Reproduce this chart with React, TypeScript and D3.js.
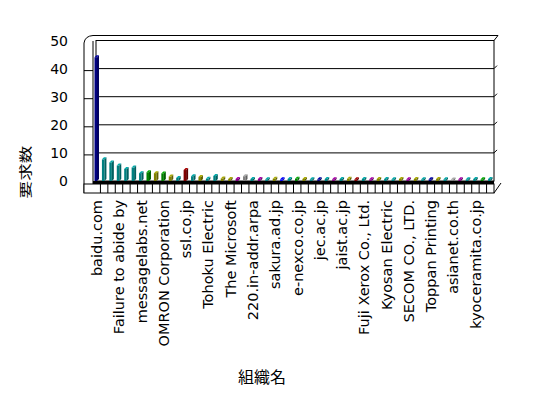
import * as d3 from 'd3';

// labels shown on the axis (every third organisation)
const shownLabels = [
  'baidu.com',
  'Failure to abide by',
  'messagelabs.net',
  'OMRON Corporation',
  'ssl.co.jp',
  'Tohoku Electric',
  'The Microsoft',
  '220.in-addr.arpa',
  'sakura.ad.jp',
  'e-nexco.co.jp',
  'jec.ac.jp',
  'jaist.ac.jp',
  'Fuji Xerox Co., Ltd.',
  'Kyosan Electric',
  'SECOM CO., LTD.',
  'Toppan Printing',
  'asianet.co.th',
  'kyoceramita.co.jp',
];

const requests = [
  44, 7.7, 6.6, 5.5, 4.3, 4.8, 2.8, 3.1, 2.8, 2.7,
  1.6, 1.1, 3.9, 1.7, 1.4, 0.8, 1.8, 0.9, 0.7, 0.7,
  1.7, 0.7, 0.7, 0.6, 0.8, 0.6, 0.7, 0.8, 0.7, 0.6,
  0.6, 0.7, 0.6, 0.7, 0.8, 0.6, 0.7, 0.6, 0.7, 0.7,
  0.6, 0.7, 0.6, 0.7, 0.6, 0.6, 0.7, 0.6, 0.5, 0.6,
  0.6, 0.7, 0.6, 0.7,
];

const barColours = [
  '#000080', '#008080', '#008080', '#008080', '#008080', '#008080', '#008080', '#008000', '#808000', '#008000',
  '#808000', '#008080', '#800000', '#008080', '#808000', '#008080', '#008080', '#808000', '#808000', '#800080',
  '#808080', '#008080', '#800080', '#008080', '#808000', '#0000ff', '#008080', '#008000', '#808000', '#008080',
  '#000080', '#008080', '#800080', '#008080', '#808000', '#800000', '#008080', '#800080', '#808000', '#008080',
  '#008080', '#808000', '#800080', '#808000', '#008080', '#000080', '#808000', '#008080', '#808080', '#800080',
  '#008080', '#008080', '#008000', '#008080',
];

const yTicks = [0, 10, 20, 30, 40, 50];

const W = 548;
const H = 398;
const FLOOR_LEFT = 93;
const FLOOR_RIGHT = 494;
const BASE_Y = 181;
const TOP_Y = 40.5;
const FONT = '"DejaVu Sans", sans-serif';
const JP_FONT = '"Noto Sans CJK JP", sans-serif';

export default function App() {
  const idx = d3.range(requests.length);
  const x = d3.scaleBand<number>().domain(idx).range([FLOOR_LEFT, FLOOR_RIGHT]);
  const y = d3.scaleLinear().domain([0, 50]).range([BASE_Y, TOP_Y]);
  const depth = 2;

  return (
    <svg width={W} height={H} style={{ position: 'absolute', left: 0, top: 0, background: '#fff' }}>
      {/* back wall */}
      <rect x={96} y={TOP_Y} width={FLOOR_RIGHT - 96} height={BASE_Y - TOP_Y} fill="#fff" stroke="#000" strokeWidth={1} />
      {yTicks.slice(1, -1).map((t) => (
        <g key={t}>
          <line x1={96} x2={FLOOR_RIGHT} y1={y(t)} y2={y(t)} stroke="#000" strokeWidth={1} />
          <line x1={84} x2={93} y1={y(t) + 2} y2={y(t) + 2} stroke="#000" />
          <line x1={FLOOR_RIGHT} x2={FLOOR_RIGHT + 3} y1={y(t)} y2={y(t) - 3} stroke="#000" />
        </g>
      ))}
      {/* wall thickness */}
      <line x1={93} x2={498} y1={35.5} y2={35.5} stroke="#000" />
      <line x1={FLOOR_RIGHT} x2={498} y1={TOP_Y} y2={35.5} stroke="#000" />
      <path d="M84,43 Q85,36 93,35.5" fill="none" stroke="#000" />
      <line x1={84} x2={84} y1={43} y2={193} stroke="#000" />
      <line x1={93} x2={93} y1={41} y2={184} stroke="#000" />

      {/* bars */}
      {requests.map((v, i) => {
        const x0 = (x(i) ?? 0) + 1.5;
        const w = 2.5;
        const y0 = y(v);
        const c = barColours[i];
        const dark = d3.color(c)!.darker(0.8).formatHex();
        const light = d3.color(c)!.brighter(0.8).formatHex();
        return (
          <g key={i}>
            <rect x={x0} y={y0} width={w} height={BASE_Y - y0} fill={c} />
            <polygon
              points={`${x0 + w},${y0} ${x0 + w + depth},${y0 - depth} ${x0 + w + depth},${BASE_Y - depth} ${x0 + w},${BASE_Y}`}
              fill={dark}
            />
            <polygon
              points={`${x0},${y0} ${x0 + depth},${y0 - depth} ${x0 + w + depth},${y0 - depth} ${x0 + w},${y0}`}
              fill={light}
            />
          </g>
        );
      })}

      {/* floor */}
      <rect x={FLOOR_LEFT} y={BASE_Y} width={FLOOR_RIGHT - FLOOR_LEFT} height={3} fill="#000" />
      <rect x={84} y={184} width={FLOOR_RIGHT - 84} height={9} fill="#fff" stroke="#000" />
      {idx.slice(1).map((i) => (
        <line key={i} x1={x(i)} x2={x(i)} y1={184} y2={193} stroke="#000" />
      ))}
      <line x1={FLOOR_RIGHT} x2={501} y1={193} y2={183} stroke="#000" />

      {/* y tick labels */}
      {yTicks.map((t) => (
        <text key={t} x={68} y={y(t) + 5} textAnchor="end" fontFamily={FONT} fontSize={14} fill="#000">
          {t}
        </text>
      ))}

      {/* category labels */}
      {shownLabels.map((label, k) => {
        const cx = (x(k * 3) ?? 0) + 9;
        return (
          <text
            key={label}
            transform={`translate(${cx},200) rotate(-90)`}
            textAnchor="end"
            fontFamily={FONT}
            fontSize={14.5}
            fill="#000"
          >
            {label}
          </text>
        );
      })}

      {/* axis titles */}
      <text transform="translate(30,172) rotate(-90) scale(1.1,0.8)" textAnchor="middle" fontFamily={JP_FONT} fontSize={16} fill="#000">
        要求数
      </text>
      <text x={262} y={383} textAnchor="middle" fontFamily={JP_FONT} fontSize={16} fill="#000">
        組織名
      </text>
    </svg>
  );
}
